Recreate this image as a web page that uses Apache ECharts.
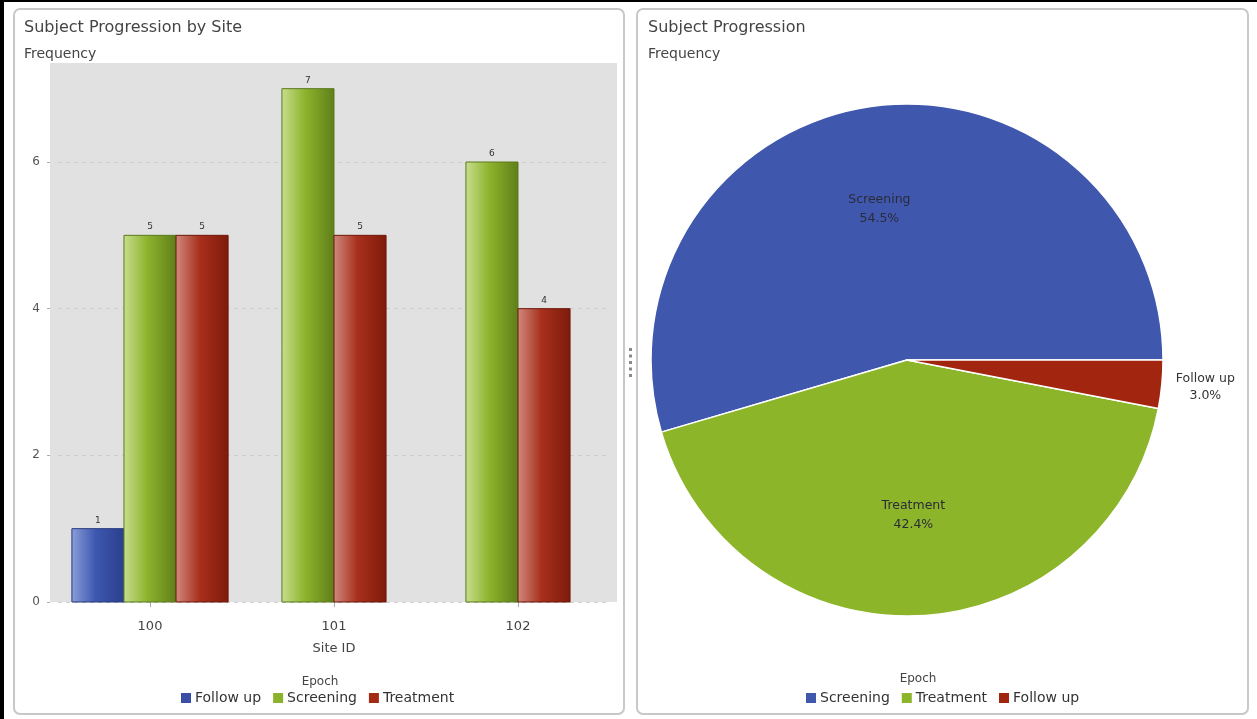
<!DOCTYPE html>
<html>
<head>
<meta charset="utf-8">
<script src="https://cdn.jsdelivr.net/npm/echarts@6/dist/echarts.min.js"></script>
<style>
  html, body { margin: 0; padding: 0; background: #fff; }
  #chart { width: 1257px; height: 719px; }
</style>
</head>
<body>
<div id="chart"></div>
<script>
// Subject counts per site, split by epoch
const siteIds = ['100', '101', '102'];
const epochs = ['Follow up', 'Screening', 'Treatment'];
const followUp = [1, null, null];
const screening = [5, 7, 6];
const treatment = [5, 5, 4];
const yTickValues = [0, 2, 4, 6];

// Overall subject counts by epoch
const pieEpochs = ['Screening', 'Treatment', 'Follow up'];
const pieCounts = [18, 14, 1];

const FONT = '"DejaVu Sans", Verdana, sans-serif';
const BAR_FRACTION = 0.283;

const barStyles = {
  'Follow up': { solid: '#3a4ea6', stops: ['#8c9fd8', '#3d58b0', '#2b3f8c'], border: '#26387e' },
  'Screening': { solid: '#8cb12a', stops: ['#c8de8e', '#8db32c', '#5f7e19'], border: '#5a7a1c' },
  'Treatment': { solid: '#a52a14', stops: ['#d08a80', '#a8301c', '#7e1a0a'], border: '#6e170a' }
};
const pieColors = { 'Screening': '#3f58ae', 'Treatment': '#8db52a', 'Follow up': '#a2250f' };

const groups = [
  { name: 'Follow up', values: followUp },
  { name: 'Screening', values: screening },
  { name: 'Treatment', values: treatment }
];

function barSeries(g) {
  const st = barStyles[g.name];
  const fill = new echarts.graphic.LinearGradient(0, 0, 1, 0, [
    { offset: 0, color: st.stops[0] },
    { offset: 0.45, color: st.stops[1] },
    { offset: 1, color: st.stops[2] }
  ]);
  return {
    type: 'custom',
    name: g.name,
    xAxisIndex: 0,
    yAxisIndex: 0,
    itemStyle: { color: st.solid },
    encode: { x: 0, y: 1 },
    data: g.values.map((v, i) => (v == null ? null : [i, v])).filter(Boolean),
    renderItem(params, api) {
      const cat = api.value(0);
      const v = api.value(1);
      // bars present in this site are packed side by side around the tick
      const present = groups.filter(x => x.values[cat] != null);
      const pos = present.findIndex(x => x.name === g.name);
      const band = api.size([1, 0])[0];
      const w = band * BAR_FRACTION;
      const base = api.coord([cat, 0]);
      const top = api.coord([cat, v]);
      const x = base[0] + (pos - (present.length - 1) / 2) * w - w / 2;
      return {
        type: 'group',
        children: [
          {
            type: 'rect',
            shape: { x: x, y: top[1], width: w, height: base[1] - top[1] },
            style: { fill: fill, stroke: st.border, lineWidth: 1 }
          },
          {
            type: 'text',
            style: {
              text: String(v), x: x + w / 2, y: top[1] - 4,
              align: 'center', verticalAlign: 'bottom',
              fontSize: 9, fill: '#333', fontFamily: FONT
            }
          }
        ]
      };
    }
  };
}

const total = pieCounts.reduce((a, b) => a + b, 0);
const PIE_CX = 907, PIE_CY = 360, PIE_R = 256;

const chart = echarts.init(document.getElementById('chart'), null, { renderer: 'canvas' });

chart.setOption({
  animation: false,
  textStyle: { fontFamily: FONT },
  graphic: [
    // outer frame edges
    { type: 'rect', shape: { x: 0, y: 0, width: 4, height: 719 }, style: { fill: '#000' }, z: 100 },
    { type: 'rect', shape: { x: 0, y: 0, width: 1257, height: 2 }, style: { fill: '#000' }, z: 100 },
    // panels
    { type: 'rect', shape: { x: 14, y: 9, width: 610, height: 705, r: 6 }, style: { fill: 'none', stroke: '#c8c8c8', lineWidth: 2 }, z: -20 },
    { type: 'rect', shape: { x: 637, y: 9, width: 611, height: 705, r: 6 }, style: { fill: 'none', stroke: '#c8c8c8', lineWidth: 2 }, z: -20 },
    // splitter handle
    { type: 'group', z: 5, children: [0, 1, 2, 3, 4].map(i => ({
      type: 'rect', shape: { x: 629, y: 348 + i * 6.5, width: 3, height: 3 }, style: { fill: '#8a8a8a' }
    })) },
    // plot background of bar chart
    { type: 'rect', shape: { x: 50, y: 63, width: 567, height: 539 }, style: { fill: '#e1e1e1' }, z: -10 },
    // panel headings
    { type: 'text', x: 24, y: 28, style: { text: 'Subject Progression by Site', fontSize: 16, fill: '#444', verticalAlign: 'middle', fontFamily: FONT } },
    { type: 'text', x: 24, y: 54, style: { text: 'Frequency', fontSize: 14, fill: '#444', verticalAlign: 'middle', fontFamily: FONT } },
    { type: 'text', x: 648, y: 28, style: { text: 'Subject Progression', fontSize: 16, fill: '#444', verticalAlign: 'middle', fontFamily: FONT } },
    { type: 'text', x: 648, y: 54, style: { text: 'Frequency', fontSize: 14, fill: '#444', verticalAlign: 'middle', fontFamily: FONT } },
    // legend captions
    { type: 'text', x: 320, y: 682, style: { text: 'Epoch', fontSize: 12, fill: '#444', align: 'center', verticalAlign: 'middle', fontFamily: FONT } },
    { type: 'text', x: 918, y: 679, style: { text: 'Epoch', fontSize: 12, fill: '#444', align: 'center', verticalAlign: 'middle', fontFamily: FONT } }
  ],
  legend: [
    {
      data: epochs,
      left: 181, top: 691, padding: 0,
      icon: 'rect', itemWidth: 10, itemHeight: 10, itemGap: 12,
      textStyle: { fontSize: 14, color: '#333', padding: [0, 0, 0, -1] },
      selectedMode: false
    },
    {
      data: pieEpochs.map(n => ({ name: n, itemStyle: { color: pieColors[n] } })),
      left: 806, top: 691, padding: 0,
      icon: 'rect', itemWidth: 10, itemHeight: 10, itemGap: 12,
      textStyle: { fontSize: 14, color: '#333', padding: [0, 0, 0, -1] },
      selectedMode: false
    }
  ],
  grid: { left: 58, top: 63, width: 552, height: 539 },
  xAxis: {
    type: 'category',
    data: siteIds,
    name: 'Site ID',
    nameLocation: 'middle',
    nameGap: 40,
    nameTextStyle: { fontSize: 13, color: '#444' },
    axisLine: { show: false },
    axisTick: { show: true, alignWithLabel: true, length: 5, lineStyle: { color: '#aaa' } },
    axisLabel: { fontSize: 13, color: '#444', margin: 18 }
  },
  yAxis: {
    type: 'value',
    min: 0,
    max: 7.35,
    interval: 2,
    offset: 8,
    axisLine: { show: false },
    axisTick: { show: true, length: 3, lineStyle: { color: '#aaa' } },
    axisLabel: {
      fontSize: 12, color: '#555', margin: 10, showMaxLabel: false,
      formatter: v => (yTickValues.includes(v) ? String(v) : '')
    },
    splitLine: { show: true, showMaxLine: false, lineStyle: { color: '#cdcdcd', type: [4, 4], width: 1 } }
  },
  series: [
    ...groups.map(barSeries),
    {
      type: 'pie',
      name: 'Subject Progression',
      center: [PIE_CX, PIE_CY],
      radius: PIE_R,
      startAngle: 0,
      clockwise: false,
      silent: true,
      itemStyle: { borderColor: '#fff', borderWidth: 1.5 },
      label: {
        show: true,
        position: 'inside',
        fontSize: 12.5,
        lineHeight: 19,
        color: '#2b2b3a',
        formatter: p => p.name + '\n' + (p.value / total * 100).toFixed(1) + '%'
      },
      labelLine: { show: false },
      labelLayout(params) {
        const r = params.labelRect;
        if (params.dataIndex === 2) {
          return { x: r.x + r.width / 2 + 3, dy: 2, align: 'center' };
        }
        const lx = r.x + r.width / 2, ly = r.y + r.height / 2;
        const k = params.dataIndex === 0 ? 0.16 : 0.185;
        const sx = params.dataIndex === 0 ? -6 : -1;
        return { dx: (lx - PIE_CX) * k + sx, dy: (ly - PIE_CY) * k };
      },
      data: pieEpochs.map((n, i) => ({
        name: n,
        value: pieCounts[i],
        itemStyle: { color: pieColors[n] },
        label: n === 'Follow up' ? { position: 'outside', color: '#333', lineHeight: 17 } : undefined,
        labelLine: n === 'Follow up' ? { show: false, length: 6, length2: 0 } : undefined
      }))
    }
  ]
});
</script>
</body>
</html>
